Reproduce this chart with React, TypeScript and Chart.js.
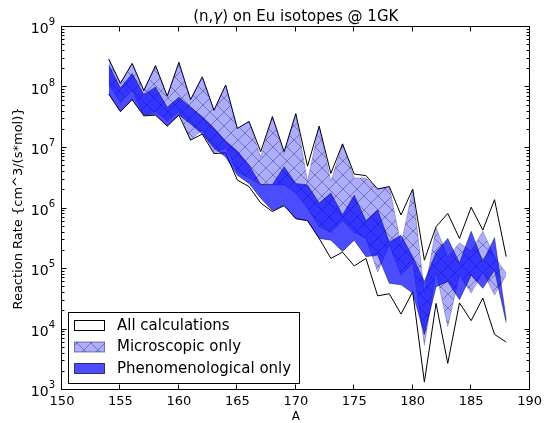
import React, { useEffect, useRef } from 'react';
import { Chart, registerables } from 'chart.js';

Chart.register(...registerables);

// ---- data ----
const massNumbers = [154, 155, 156, 157, 158, 159, 160, 161, 162, 163, 164, 165, 166, 167, 168, 169, 170, 171, 172, 173, 174, 175, 176, 177, 178, 179, 180, 181, 182, 183, 184, 185, 186, 187, 188];

const allUpper = [2.95e8, 1.17e8, 2.5e8, 8.9e7, 2.3e8, 7.2e7, 2.6e8, 6.3e7, 1.5e8, 4.2e7, 1.1e8, 2.1e7, 2.75e7, 8.7e6, 3.3e7, 8.7e6, 3.7e7, 5.0e6, 2.3e7, 3.8e6, 1.17e7, 3.7e6, 3.5e6, 2.1e6, 2.3e6, 7.8e5, 2.1e6, 1.4e5, 5.0e5, 8.3e5, 3.2e5, 1.05e6, 4.4e5, 1.4e6, 1.6e5];
const allLower = [7.8e7, 4.0e7, 6.3e7, 3.4e7, 3.5e7, 2.3e7, 3.5e7, 1.35e7, 1.7e7, 8.1e6, 8.3e6, 2.95e6, 2.3e6, 1.23e6, 8.9e5, 1.12e6, 6.8e5, 6.3e5, 3.2e5, 1.5e5, 1.9e5, 1.12e5, 1.5e5, 3.6e4, 3.9e4, 1.8e4, 4.2e4, 1.35e3, 2.7e4, 2.75e3, 2.75e4, 1.4e4, 3.3e4, 8.3e3, 6.2e3];

const microUpper = [2.95e8, 1.17e8, 2.5e8, 8.9e7, 2.3e8, 7.2e7, 2.6e8, 6.3e7, 1.5e8, 4.2e7, 1.1e8, 2.1e7, 2.75e7, 7.1e6, 3.3e7, 7.9e6, 3.7e7, 2.8e6, 2.3e7, 2.8e6, 1.17e7, 3.2e6, 3.2e6, 2.1e6, 2.3e6, 2.5e5, 2.1e6, 4.0e4, 4.8e5, 1.6e5, 2.7e5, 2.0e5, 4.2e5, 1.6e5, 8.5e4];
const microLower = [1.12e8, 5.6e7, 8.9e7, 3.4e7, 4.0e7, 2.8e7, 4.0e7, 1.35e7, 2.0e7, 8.1e6, 1.0e7, 4.0e6, 3.2e6, 2.45e6, 2.45e6, 2.45e6, 1.8e6, 1.0e6, 5.0e5, 4.0e5, 6.3e5, 4.0e5, 3.2e5, 8.9e4, 2.5e5, 7.9e4, 1.26e5, 5.5e3, 8.9e4, 1.12e4, 7.9e4, 4.0e4, 8.9e4, 3.7e4, 7.9e4];

const phenoUpper = [2.35e8, 9.8e7, 1.7e8, 7.6e7, 1.02e8, 4.7e7, 6.9e7, 4.7e7, 3.3e7, 2.15e7, 1.3e7, 8.9e6, 5.2e6, 2.5e6, 2.5e6, 4.9e6, 2.6e6, 2.45e6, 1.23e6, 1.8e6, 7.9e5, 1.66e6, 6.3e5, 9.5e5, 2.8e5, 3.6e5, 1.6e5, 6.2e4, 1.9e5, 3.2e5, 1.26e5, 4.2e5, 1.32e5, 3.3e5, 1.45e4];
const phenoLower = [7.8e7, 4.0e7, 6.3e7, 3.55e7, 3.55e7, 2.3e7, 3.55e7, 2.5e7, 1.7e7, 1.0e7, 7.1e6, 3.55e6, 2.6e6, 1.48e6, 9.3e5, 1.12e6, 6.8e5, 6.3e5, 3.2e5, 3.0e5, 1.95e5, 3.0e5, 1.6e5, 1.7e5, 5.8e4, 5.5e4, 4.0e4, 8.3e3, 5.1e4, 6.2e4, 3.1e4, 7.9e4, 4.8e4, 9.5e4, 1.29e4];

const xTicks = [150, 155, 160, 165, 170, 175, 180, 185, 190];
const yDecades = [3, 4, 5, 6, 7, 8, 9];
const legendLabels = ['All calculations', 'Microscopic only', 'Phenomenological only'];
const titleParts = ['(n,', 'γ', ') on Eu isotopes @ 1GK'];
const yAxisTitle = 'Reaction Rate {cm^3/(s*mol)}';
const xAxisTitle = 'A';

const FONT = "'DejaVu Sans', 'Liberation Sans', sans-serif";
const MICRO_FILL = 'rgba(0,0,255,0.32)';
const PHENO_FILL = 'rgba(0,0,255,0.7)';

function makeHatch(): CanvasPattern | string {
  const s = 14;
  const c = document.createElement('canvas');
  c.width = s;
  c.height = s;
  const g = c.getContext('2d');
  if (!g) return MICRO_FILL;
  g.fillStyle = MICRO_FILL;
  g.fillRect(0, 0, s, s);
  g.strokeStyle = 'rgba(70,70,110,0.55)';
  g.lineWidth = 1;
  g.beginPath();
  g.moveTo(-1, -1);
  g.lineTo(s + 1, s + 1);
  g.moveTo(-1, s + 1);
  g.lineTo(s + 1, -1);
  g.stroke();
  const p = g.createPattern(c, 'repeat');
  return p || MICRO_FILL;
}

function pts(vals: number[]) {
  return massNumbers.map((a, i) => ({ x: a, y: vals[i] }));
}

export default function App() {
  const ref = useRef<HTMLCanvasElement | null>(null);

  useEffect(() => {
    const canvas = ref.current;
    if (!canvas) return;
    const hatch = makeHatch();

    const decor = {
      id: 'decor',
      afterDraw(chart: any) {
        const { ctx, chartArea: ca, scales } = chart;
        const xs = scales.x;
        const ys = scales.y;
        ctx.save();
        ctx.strokeStyle = '#000';
        ctx.lineWidth = 1;
        const L = Math.round(ca.left) - 0.5;
        const R = Math.round(ca.right) - 0.5;
        const T = Math.round(ca.top) - 0.5;
        const B = Math.round(ca.bottom) - 0.5;
        ctx.strokeRect(L, T, R - L, B - T);
        ctx.beginPath();
        xTicks.forEach((v) => {
          const px = Math.round(xs.getPixelForValue(v)) - 0.5;
          ctx.moveTo(px, B);
          ctx.lineTo(px, B - 5);
          ctx.moveTo(px, T);
          ctx.lineTo(px, T + 5);
        });
        yDecades.forEach((d) => {
          for (let m = 1; m <= 9; m++) {
            if (d === 9 && m > 1) break;
            const py = Math.round(ys.getPixelForValue(m * Math.pow(10, d))) - 0.5;
            const len = m === 1 ? 5 : 3;
            ctx.moveTo(L, py);
            ctx.lineTo(L + len, py);
            ctx.moveTo(R, py);
            ctx.lineTo(R - len, py);
          }
        });
        ctx.stroke();

        // y tick labels 10^d
        ctx.fillStyle = '#000';
        ctx.textBaseline = 'alphabetic';
        ctx.textAlign = 'left';
        yDecades.forEach((d) => {
          const py = ys.getPixelForValue(Math.pow(10, d));
          ctx.font = `10px ${FONT}`;
          const e = String(d);
          const ew = ctx.measureText(e).width;
          ctx.font = `14px ${FONT}`;
          const bw = ctx.measureText('10').width;
          const right = ca.left - 7;
          ctx.fillText('10', right - ew - bw, py + 6);
          ctx.font = `10px ${FONT}`;
          ctx.fillText(e, right - ew, py - 2);
        });

        // title
        const fonts = [`15px ${FONT}`, `italic 15px ${FONT}`, `15px ${FONT}`];
        let total = 0;
        const widths = titleParts.map((t, i) => {
          ctx.font = fonts[i];
          const w = ctx.measureText(t).width;
          total += w;
          return w;
        });
        let tx = (ca.left + ca.right) / 2 - total / 2;
        titleParts.forEach((t, i) => {
          ctx.font = fonts[i];
          ctx.fillText(t, tx, 21);
          tx += widths[i];
        });

        // legend
        const bx = 68.5, by = 312.5, bwid = 231, bh = 71;
        ctx.fillStyle = '#fff';
        ctx.fillRect(bx, by, bwid, bh);
        ctx.strokeStyle = '#000';
        ctx.strokeRect(bx, by, bwid, bh);
        const fills: any[] = ['#fff', hatch, PHENO_FILL];
        const edges = ['#000', 'rgba(0,0,60,0.45)', 'rgba(0,0,40,0.7)'];
        ctx.font = `15px ${FONT}`;
        ctx.textBaseline = 'middle';
        legendLabels.forEach((lab, i) => {
          const py = 320 + i * 21.5;
          ctx.fillStyle = fills[i];
          ctx.fillRect(74.5, py + 0.5, 30, 10);
          ctx.strokeStyle = edges[i];
          ctx.strokeRect(74.5, py + 0.5, 30, 10);
          ctx.fillStyle = '#000';
          ctx.fillText(lab, 117, py + 6);
        });
        ctx.restore();
      },
    };

    const lineBase = { pointRadius: 0, tension: 0, showLine: true };

    const chart = new Chart(canvas, {
      type: 'line',
      data: {
        datasets: [
          { ...lineBase, label: 'All calculations (lower)', data: pts(allLower), borderColor: '#000', borderWidth: 1, fill: false, order: 3 },
          { ...lineBase, label: 'All calculations', data: pts(allUpper), borderColor: '#000', borderWidth: 1, fill: '-1', backgroundColor: '#fff', order: 3 },
          { ...lineBase, label: 'Microscopic only (lower)', data: pts(microLower), borderColor: 'rgba(0,0,80,0.3)', borderWidth: 0.8, fill: false, order: 2 },
          { ...lineBase, label: 'Microscopic only', data: pts(microUpper), borderColor: 'rgba(0,0,80,0.3)', borderWidth: 0.8, fill: '-1', backgroundColor: hatch as any, order: 2 },
          { ...lineBase, label: 'Phenomenological only (lower)', data: pts(phenoLower), borderColor: 'rgba(0,0,60,0.55)', borderWidth: 0.8, fill: false, order: 1 },
          { ...lineBase, label: 'Phenomenological only', data: pts(phenoUpper), borderColor: 'rgba(0,0,60,0.55)', borderWidth: 0.8, fill: '-1', backgroundColor: PHENO_FILL, order: 1 },
        ] as any,
      },
      options: {
        responsive: false,
        animation: false,
        events: [],
        layout: { padding: { left: 0, right: 16, top: 27, bottom: 0 } },
        plugins: {
          legend: { display: false },
          title: { display: false },
          tooltip: { enabled: false },
        },
        scales: {
          x: {
            type: 'linear',
            min: 150,
            max: 190,
            grid: { display: false, drawTicks: false },
            border: { display: false },
            ticks: { stepSize: 5, color: '#000', padding: 4, font: { family: FONT, size: 13 } },
            title: { display: true, text: xAxisTitle, color: '#000', font: { family: FONT, size: 12, lineHeight: 1 }, padding: { top: 0, bottom: 0 } },
            afterFit: (s: any) => { s.height = 33; },
          },
          y: {
            type: 'logarithmic',
            min: 1e3,
            max: 1e9,
            grid: { display: false, drawTicks: false },
            border: { display: false },
            ticks: { display: false },
            title: { display: true, text: yAxisTitle, color: '#000', font: { family: FONT, size: 13 }, padding: { top: 11, bottom: 0 } },
            afterFit: (s: any) => { s.width = 62; },
          },
        },
      } as any,
      plugins: [decor],
    });

    return () => chart.destroy();
  }, []);

  return (
    <div style={{ position: 'fixed', left: 0, top: 0, width: 546, height: 423, background: '#fff' }}>
      <canvas ref={ref} width={546} height={423} style={{ display: 'block', width: 546, height: 423 }} />
    </div>
  );
}
